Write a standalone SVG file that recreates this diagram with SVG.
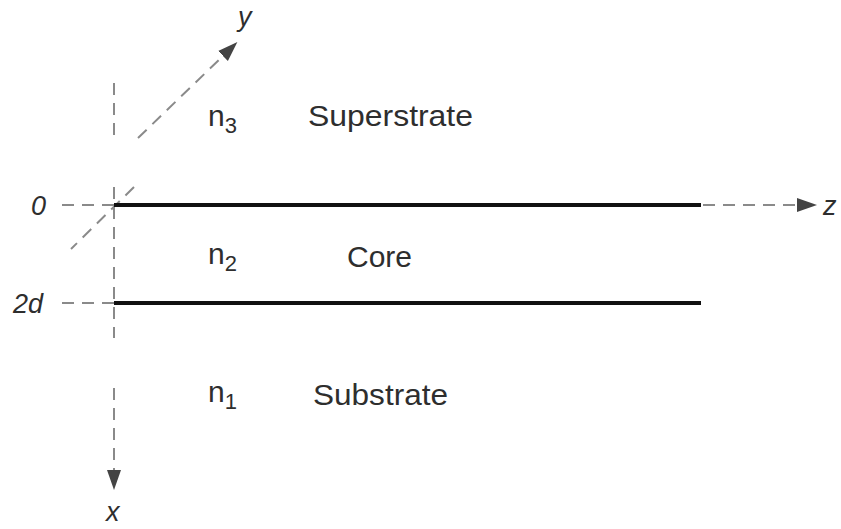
<svg xmlns="http://www.w3.org/2000/svg" width="841" height="529" viewBox="0 0 841 529">
  <style>
    .dash { stroke: #8a8a8a; stroke-width: 2; fill: none; stroke-dasharray: 12 8; }
    .solid { stroke: #111; stroke-width: 4; fill: none; }
    .lbl { font-family: "Liberation Sans", Arial, sans-serif; font-size: 30px; fill: #2e2e2e; }
    .ax { font-family: "Liberation Sans", Arial, sans-serif; font-size: 27px; font-style: italic; fill: #2e2e2e; }
    .sub { font-size: 22px; }
  </style>
  <defs>
    <marker id="head" markerUnits="userSpaceOnUse" markerWidth="22" markerHeight="16" refX="0" refY="7" orient="auto" viewBox="0 0 22 14">
      <path d="M0,0 L20,7 L0,14 z" fill="#444"/>
    </marker>
  </defs>
  <rect width="841" height="529" fill="#fff"/>

  <g id="connectors">
    <!-- x axis (vertical) -->
    <line class="dash" x1="114" y1="83" x2="114" y2="142"/>
    <line class="dash" x1="114" y1="187" x2="114" y2="338"/>
    <line class="dash" x1="114" y1="388" x2="114" y2="470" marker-end="url(#head)"/>
    <!-- y axis (diagonal) -->
    <line class="dash" x1="138" y1="138" x2="223" y2="56" marker-end="url(#head)"/>
    <line class="dash" x1="134" y1="187" x2="71" y2="249"/>
    <!-- z axis -->
    <line class="dash" x1="62" y1="205" x2="114" y2="205"/>
    <line class="dash" x1="703" y1="205" x2="797" y2="205" marker-end="url(#head)"/>
    <line class="dash" x1="62" y1="303" x2="114" y2="303"/>
  </g>

  <g id="interface-top">
    <line class="solid" x1="114" y1="205" x2="701" y2="205"/>
  </g>
  <g id="interface-bottom">
    <line class="solid" x1="114" y1="303" x2="701" y2="303"/>
  </g>

  <g id="superstrate">
    <text class="lbl" x="208" y="126">n<tspan class="sub" dy="7">3</tspan></text>
    <text class="lbl" x="308" y="126" textLength="165" lengthAdjust="spacingAndGlyphs">Superstrate</text>
  </g>
  <g id="core">
    <text class="lbl" x="208" y="264">n<tspan class="sub" dy="7">2</tspan></text>
    <text class="lbl" x="347" y="267" textLength="65" lengthAdjust="spacingAndGlyphs">Core</text>
  </g>
  <g id="substrate">
    <text class="lbl" x="208" y="402">n<tspan class="sub" dy="7">1</tspan></text>
    <text class="lbl" x="313" y="405" textLength="135" lengthAdjust="spacingAndGlyphs">Substrate</text>
  </g>

  <g id="axis-labels">
    <text class="ax" x="31" y="215">0</text>
    <text class="ax" x="13" y="313">2d</text>
    <text class="ax" x="238" y="26">y</text>
    <text class="ax" x="823" y="215">z</text>
    <text class="ax" x="106" y="521">x</text>
  </g>
</svg>
